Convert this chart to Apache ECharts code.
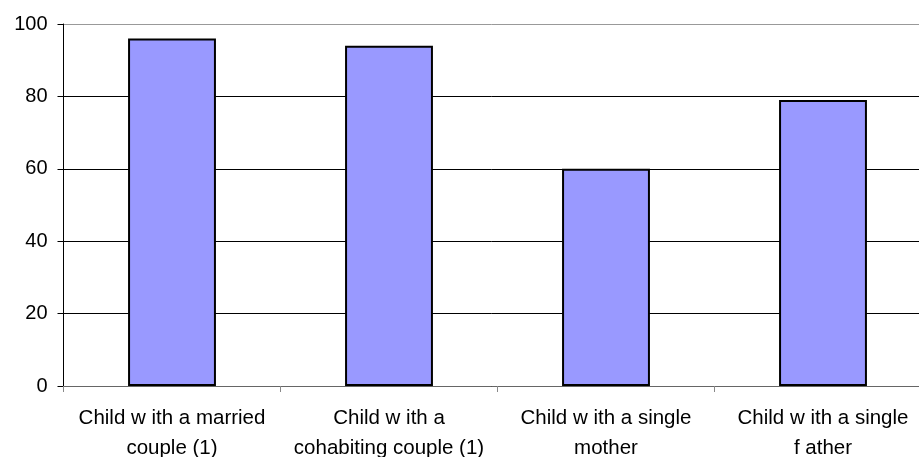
<!DOCTYPE html>
<html>
<head>
<meta charset="utf-8">
<script src="https://cdn.jsdelivr.net/npm/echarts@6/dist/echarts.min.js"></script>
<style>
  html, body { margin: 0; padding: 0; background: #fff; }
  #chart { width: 919px; height: 457px; }
</style>
</head>
<body>
<div id="chart"></div>
<script>
// Household type categories and their percentages
const categories = [
  'Child w ith a married\ncouple (1)',
  'Child w ith a\ncohabiting couple (1)',
  'Child w ith a single\nmother',
  'Child w ith a single\nf ather'
];
const values = [96, 94, 60, 79];
const yTicks = { min: 0, max: 100, interval: 20 };

const chart = echarts.init(document.getElementById('chart'), null, { renderer: 'canvas' });
chart.setOption({
  animation: false,
  backgroundColor: '#ffffff',
  grid: { left: 63.5, width: 868, top: 24, bottom: 71, containLabel: false, outerBoundsMode: 'none' },
  xAxis: {
    type: 'category',
    data: categories,
    axisLine: { lineStyle: { color: '#666', width: 1 } },
    axisTick: { show: true, alignWithLabel: false, length: 6, lineStyle: { color: '#888' } },
    axisLabel: {
      color: '#000', fontFamily: 'Liberation Sans, Arial, sans-serif',
      fontSize: 20.5, lineHeight: 30, margin: 17, interval: 0
    },
    splitLine: { show: false }
  },
  yAxis: {
    type: 'value',
    min: yTicks.min, max: yTicks.max, interval: yTicks.interval,
    axisLine: { show: true, lineStyle: { color: '#000', width: 1 } },
    axisTick: { show: true, length: 6, lineStyle: { color: '#000' } },
    axisLabel: {
      color: '#000', fontFamily: 'Liberation Sans, Arial, sans-serif',
      fontSize: 20, margin: 16
    },
    splitLine: {
      show: true,
      lineStyle: { color: ['#000', '#000', '#000', '#000', '#000', '#999'], width: 1 }
    }
  },
  series: [{
    type: 'bar',
    data: values,
    barWidth: '40.5%',
    itemStyle: { color: '#9999ff', borderColor: '#000', borderWidth: 2 }
  }]
});
</script>
</body>
</html>
